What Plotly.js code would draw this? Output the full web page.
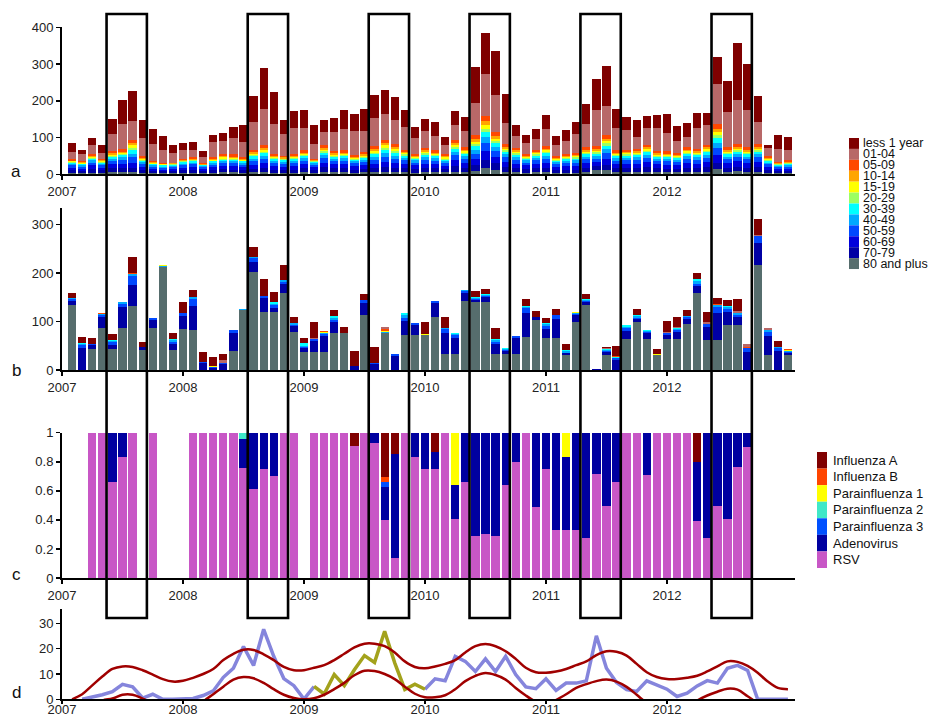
<!DOCTYPE html>
<html><head><meta charset="utf-8">
<script src="https://cdn.plot.ly/plotly-3.0.1.min.js"></script>
<style>html,body{margin:0;padding:0;background:#fff}#chart{width:930px;height:716px}</style>
</head><body><div id="chart"></div>
<script>
// ---------- labels ----------
const years = ['2007','2008','2009','2010','2011','2012'];
const ageGroups = ['less 1 year','01-04','05-09','10-14','15-19','20-29','30-39','40-49','50-59','60-69','70-79','80 and plus'];
const ageColors = ['#7f0000','#b86868','#ff4800','#ffa500','#ffff00','#9cff62','#00ffff','#00a8ff','#0048ff','#0000dc','#0000a4','#566d6d'];
const pathogens = ['Influenza A','Influenza B','Parainfluenza 1','Parainfluenza 2','Parainfluenza 3','Adenovirus','RSV'];
const pathogenColors = ['#800000','#ff4500','#ffff00','#40e8c8','#0050ff','#0000a0','#c857c6'];
const epidemicStartMonth = [4,18,30,40,51,64];

// ---------- panel a (monthly counts by age, Jan 2007 - Dec 2012) ----------
const aLt1 = [24,11,20,21,40,63,83,48,40,40,23,20, 21,16,19,22,31,47,69,111,89,39,45,50, 52,31,39,54,47,59,63,66,62,45,31,34, 36,23,38,39,98,111,121,79,31,23,29,39, 25,30,30,52,84,109,54,36,47,32,35,51, 42,38,41,35,74,84,153,125,71,9,38,35];
const a0104 = [20,18,23,15,48,70,50,49,46,33,26,22, 20,16,41,36,45,41,76,97,80,58,70,61, 40,37,52,57,66,57,78,69,66,62,43,45, 40,25,39,43,88,116,100,58,32,29,28,45, 29,34,53,65,100,80,60,53,32,45,64,49, 31,28,57,52,107,96,120,103,59,23,36,29];
const a0509 = [4,3,5,4,6,6,8,5,3,3,2,4, 4,3,5,5,6,5,7,9,6,5,5,6, 4,7,6,6,5,6,8,9,8,6,5,7, 6,5,8,7,10,14,11,8,7,5,6,7, 5,6,6,7,7,10,6,6,7,8,6,7, 6,7,7,8,14,7,8,7,9,5,3,4];
const a1014 = [2,2,3,3,4,4,6,3,2,2,2,2, 3,2,3,3,3,3,4,5,3,3,3,4, 2,5,4,4,3,4,5,6,5,4,3,4, 4,3,6,4,7,10,7,5,4,3,4,5, 3,3,3,4,5,6,4,4,4,5,4,4, 3,4,4,5,10,4,5,4,5,3,2,2];
const a1519 = [2,2,3,2,3,3,8,2,2,2,1,2, 2,1,2,3,2,2,3,4,3,2,3,3, 2,4,3,3,3,3,5,7,6,3,3,4, 3,3,5,4,7,10,6,4,4,3,3,4, 2,3,3,4,4,6,3,3,4,4,3,3, 3,4,3,4,8,4,4,4,4,2,2,2];
const a2029 = [2,2,3,2,3,3,6,3,2,1,2,2, 2,1,2,3,3,2,4,4,3,3,3,3, 2,4,3,3,2,3,4,6,5,3,3,4, 3,3,5,4,6,9,6,4,4,3,3,4, 3,3,3,4,4,6,3,3,3,4,3,3, 3,4,4,4,8,4,4,4,4,3,2,2];
const a3039 = [3,3,4,3,5,6,10,4,3,3,3,4, 4,2,4,4,5,4,6,7,4,4,5,5, 3,7,5,5,4,5,7,9,8,6,4,6, 5,4,8,6,9,14,10,7,6,4,6,6, 4,4,5,6,6,9,5,6,6,7,5,5, 5,6,6,7,12,6,7,6,7,4,3,3];
const a4049 = [4,4,6,4,6,7,10,5,4,3,3,4, 5,3,5,5,5,5,7,8,6,5,6,7, 4,8,6,7,5,6,8,10,9,7,6,7, 7,5,10,7,11,16,11,8,7,6,7,8, 5,6,6,7,7,11,7,7,7,8,6,6, 6,7,7,8,14,7,8,7,8,5,3,4];
const a5059 = [6,5,8,7,9,10,14,8,5,5,5,7, 7,5,7,8,8,7,10,12,8,8,8,10, 7,12,9,10,8,9,11,13,12,10,8,11, 10,8,14,11,15,22,16,12,11,8,10,12, 8,8,9,11,10,15,10,10,11,12,9,9, 9,11,11,12,20,11,12,11,12,7,5,6];
const a6069 = [7,6,10,7,11,12,14,8,6,5,6,7, 8,6,8,9,9,8,11,13,10,9,10,11, 8,13,11,11,9,10,12,14,12,11,10,12, 11,9,16,13,17,25,18,14,12,10,11,13, 8,10,10,12,11,17,11,11,12,14,11,11, 10,13,12,14,20,12,14,12,14,8,6,6];
const a7079 = [7,6,10,7,11,12,12,8,6,5,5,8, 8,5,7,9,8,7,10,12,9,8,9,11, 7,13,11,11,9,10,11,13,12,12,10,12, 11,9,15,12,16,22,17,13,12,10,12,13, 8,9,9,12,11,15,11,12,11,13,11,10, 9,12,11,13,18,12,13,12,13,8,5,6];
const a80plus = [4,3,4,4,5,5,6,4,3,3,3,3, 4,3,4,5,5,4,5,6,4,4,4,5, 4,6,5,5,4,5,5,7,6,5,4,5, 5,5,7,6,8,16,13,7,5,4,5,5, 4,4,4,6,11,11,5,5,5,6,5,5, 5,6,5,6,14,6,8,6,7,4,3,3];

// ---------- panel b ----------
const bLt1 = [11,13,11,0,12,0,32,10,0,0,13,22, 13,22,18,12,0,0,21,34,21,31,13,12, 33,0,12,13,31,13,34,0,0,0,0,26, 0,24,0,0,13,11,23,0,0,14,12,11, 13,13,0,11,0,1,21,0,13,0,10,23, 22,12,14,22,12,12,24,0,33,0,12,0];
const b0104 = [0,0,0,0,0,0,0,0,0,0,0,0, 0,0,0,5,0,0,0,0,0,0,0,0, 2,0,0,0,0,0,0,5,0,0,0,0, 0,0,0,0,0,0,0,0,0,0,0,0, 0,0,0,0,0,3,0,0,0,0,0,2, 2,0,0,3,0,0,5,5,2,3,0,0];
const b0509 = [0,0,0,2,0,0,3,0,0,0,0,0, 0,0,1,0,0,0,0,0,0,0,0,0, 0,2,0,0,0,0,0,3,0,0,0,0, 0,0,0,0,0,0,0,0,0,0,0,0, 0,0,0,0,0,0,2,0,0,0,0,0, 0,0,0,0,3,0,0,3,0,0,0,1];
const b1014 = new Array(72).fill(0);
const b1519 = [0,0,0,1,0,0,0,0,0,2,0,0, 0,0,1,0,0,0,1,0,0,0,0,0, 0,2,0,0,0,0,0,2,0,0,0,2, 0,0,0,0,0,0,0,0,0,0,0,0, 0,0,1,0,0,0,1,0,0,0,2,0, 0,0,0,0,0,0,0,0,0,0,0,2];
const b2029 = new Array(72).fill(0);
const b3039 = [0,2,0,0,3,0,1,0,0,0,2,0, 0,0,0,0,0,0,0,0,3,0,0,5, 0,0,3,0,0,0,0,0,0,4,0,0, 0,0,1,1,1,1,2,1,0,2,0,2, 0,2,1,1,0,1,1,5,2,1,0,0, 1,1,4,0,0,3,0,0,0,0,0,1];
const b4049 = [2,2,1,2,2,3,3,0,1,1,3,0, 4,0,1,0,0,2,2,0,4,5,4,3, 0,3,5,0,0,0,0,3,0,6,0,0, 0,2,3,2,3,2,4,3,0,3,0,4, 0,3,1,3,0,2,1,2,3,2,0,0, 2,2,5,0,5,3,3,0,0,5,2,2];
const b5059 = [4,7,2,4,5,8,18,1,3,0,4,6, 15,2,1,2,6,0,7,5,5,3,2,2, 3,4,5,0,1,5,2,0,5,6,5,0, 5,8,6,4,1,2,4,2,6,10,1,5, 8,1,3,2,0,2,4,5,2,3,0,3, 4,3,4,6,12,6,4,7,15,7,6,2];
const b6069 = new Array(72).fill(0);
const b7079 = [8,45,8,22,9,42,45,6,18,0,13,28, 50,14,5,13,36,0,20,28,8,20,12,7, 22,32,22,0,8,26,12,0,28,28,20,0, 28,42,32,15,4,10,20,5,32,48,6,18, 38,4,13,6,2,7,20,18,8,13,0,10, 16,11,16,27,55,27,17,38,45,41,40,5];
const b80plus = [134,0,43,87,43,87,131,41,86,213,41,84, 82,0,0,0,40,124,203,120,120,158,78,38, 38,38,76,76,0,113,0,76,0,73,72,72, 110,34,34,143,141,141,34,34,33,69,103,67, 67,31,100,134,0,31,0,63,98,63,31,63, 63,95,158,62,62,93,93,0,216,30,0,30];

// ---------- panel c (proportions among positive samples) ----------
const cFluA = [0,0,0,0,0,0,0,0,0,0,0,0, 0,0,0,0,0,0,0,0,0,0,0,0, 0,0,0,0,0.09,0,0,0.305,0.144,0,0,0, 0.131,0,0,0,0,0,0,0,0,0,0,0, 0,0,0,0,0,0,0,0,0,0,0,0, 0,0,0.205,0,0,0,0,0,0,0,0,0];
const cFluB = [0,0,0,0,0,0,0,0,0,0,0,0, 0,0,0,0,0,0,0,0,0,0,0,0, 0,0,0,0,0,0,0,0.035,0,0,0,0, 0,0,0,0,0,0,0,0,0,0,0,0, 0,0,0,0,0,0,0,0,0,0,0,0, 0,0,0,0,0,0,0,0,0,0,0,0];
const cPara1 = [0,0,0,0,0,0,0,0,0,0,0,0, 0,0,0,0,0,0,0,0,0,0,0,0, 0,0,0,0,0,0,0,0,0,0,0,0, 0,0,0.357,0,0,0,0,0,0,0,0,0, 0,0.17,0,0,0,0,0,0,0,0,0,0, 0,0,0,0,0,0,0,0,0,0,0,0];
const cPara2 = [0,0,0,0,0,0,0,0,0,0,0,0, 0,0,0,0,0,0.045,0,0,0,0,0,0, 0,0,0,0,0,0,0,0,0,0,0,0, 0,0,0,0,0,0,0,0,0,0,0,0, 0,0,0,0,0,0,0,0,0,0,0,0, 0,0,0,0,0,0,0,0,0,0,0,0];
const cPara3 = [0,0,0,0,0,0,0,0,0,0,0,0, 0,0,0,0,0,0,0,0,0,0,0,0, 0,0,0,0,0,0,0,0.035,0,0,0,0, 0,0,0,0,0,0,0,0,0,0,0,0, 0,0,0,0,0,0,0,0,0,0,0,0, 0,0,0,0,0,0,0,0,0,0,0,0];
const cAdeno = [null,null,0,0,0.34,0.17,0,null,0,null,null,null, 0,0,0,0,0,0.195,0.39,0.25,0.30,0,0,null, 0,0,0,0,0,0,0.074,0.225,0.72,0,0.17,0.253, 0.122,0,0.24,0.339,0.712,0.696,0.712,0.357,0.205,0,0.51,0.253, 0.673,0.503,0.673,0.724,0.281,0.507,0.339,0,0,0.288,0,0, 0,0,0.403,0.724,0.507,0.592,0.235,0.097,null,null,null,null];
const cRSV = [null,null,1,1,0.66,0.83,1,null,1,null,null,null, 1,1,1,1,1,0.76,0.61,0.75,0.70,1,1,null, 1,1,1,1,0.91,1,0.926,0.40,0.136,1,0.83,0.747, 0.747,1,0.403,0.661,0.288,0.304,0.288,0.643,0.795,1,0.49,0.747, 0.327,0.327,0.327,0.276,0.719,0.493,0.661,1,1,0.712,1,1, 1,1,0.392,0.276,0.493,0.408,0.765,0.903,null,null,null,null];

// ---------- panel d ----------
const dObserved = [null,0,0.8,1.8,3,5.9,4.9,0.5,2,0,0,0, 0.3,1.5,3.3,8.7,12.3,20.9,13.4,27.7,17,8.2,5.4,0.1, 5,null,null,null,null,null,null,null,null,null,null,4.0, 8.1,7.3,17,15,11,16,11,17,9.8,4.9,4.2,8.1, 3.5,6.4,6.4,7.3,25.1,12.3,6.6,3.8,3.1,7.3,5.8,4.0, 1.1,2.4,5.3,7.4,6.4,12.3,13.4,11.4,0,0,0,0];
const dPandemic = [null,null,null,null,null,null,null,null,null,null,null,null, null,null,null,null,null,null,null,null,null,null,null,null, 5.1,2.1,9.8,5.4,11.7,17.3,14.6,26.9,14.4,3.9,6.0,4.0, null,null,null,null,null,null,null,null,null,null,null,null, null,null,null,null,null,null,null,null,null,null,null,null, null,null,null,null,null,null,null,null,null,null,null,null];
const dUpper = [0,2,5.5,9,12,13,12.8,11.5,9.8,8,7,7.3, 8.5,10,12,15.5,18,19.6,19.5,17.8,15.5,12.8,11.5,11.5, 12.5,13.5,15.5,18,20.5,22,22,21,18.5,15,12.8,12.3, 13,14,15.5,18.5,21,21.9,21,19,16,12.5,10.7,10.5, 11,12,13.5,15,17.5,19,18.8,17.3,14,10.7,8.8,8, 8,8.5,9.3,11,13,15,14.8,13.2,10.5,7,4.5,4.0];
const dLower = [-8,-6,-3,-0.5,0.3,1.8,1.8,0.3,-1.5,-4,-6,-6.5, -6,-1,2,5,7.8,8.8,8.3,6.5,4,1.8,0.5,0, 0.4,1.8,4,6.5,9.5,11.3,11.2,10,8,5,2.2,0.8, 0.8,1.6,4,7.2,9.3,10.4,9.6,7.8,4.5,1.5,-1,-2.5, -0.3,2,4.5,6,7.2,7.8,7,4.9,1.8,-1.5,-3.5,-4.5, -4.5,-3,-0.5,1.5,3,4.2,3.8,1.2,-1.5,-4,-6.5,-8];

// ---------- build ----------
const W = 930, H = 716;
const months = Array.from({length: 72}, (_, i) => i + 1);
const aSeries = [aLt1,a0104,a0509,a1014,a1519,a2029,a3039,a4049,a5059,a6069,a7079,a80plus];
const bSeries = [bLt1,b0104,b0509,b1014,b1519,b2029,b3039,b4049,b5059,b6069,b7079,b80plus];
const cSeries = [cFluA,cFluB,cPara1,cPara2,cPara3,cAdeno,cRSV];

const traces = [];
for (let g = ageGroups.length - 1; g >= 0; g--) {
  traces.push({type:'bar', x: months, y: aSeries[g], name: ageGroups[g], marker:{color: ageColors[g], line:{width:0}}, xaxis:'x', yaxis:'y', showlegend:false, hoverinfo:'skip'});
}
for (let g = ageGroups.length - 1; g >= 0; g--) {
  traces.push({type:'bar', x: months, y: bSeries[g], name: ageGroups[g], marker:{color: ageColors[g], line:{width:0}}, xaxis:'x2', yaxis:'y2', showlegend:false, hoverinfo:'skip'});
}
for (let p = pathogens.length - 1; p >= 0; p--) {
  traces.push({type:'bar', x: months, y: cSeries[p], name: pathogens[p], marker:{color: pathogenColors[p], line:{width:0}}, xaxis:'x3', yaxis:'y3', showlegend:false, hoverinfo:'skip'});
}
traces.push({type:'scatter', mode:'lines', x: months, y: dObserved, line:{color:'#8585dc', width:3.5}, xaxis:'x4', yaxis:'y4', showlegend:false, connectgaps:false, hoverinfo:'skip'});
traces.push({type:'scatter', mode:'lines', x: months, y: dPandemic, line:{color:'#a3a21c', width:3.5}, xaxis:'x4', yaxis:'y4', showlegend:false, hoverinfo:'skip'});
traces.push({type:'scatter', mode:'lines', x: months, y: dUpper, line:{color:'#a00000', width:2.5, shape:'spline'}, xaxis:'x4', yaxis:'y4', showlegend:false, hoverinfo:'skip'});
traces.push({type:'scatter', mode:'lines', x: months, y: dLower, line:{color:'#a00000', width:2.5, shape:'spline'}, xaxis:'x4', yaxis:'y4', showlegend:false, hoverinfo:'skip'});

const font = 'Liberation Sans, Arial, sans-serif';
const px = v => v / W;
const py = v => 1 - v / H;
const xDom = [px(62), px(795)];
function xAxis(anchor, standoff, tlen) {
  return {domain: xDom, range: [0, 72.7], anchor: anchor, tickvals: years.map((_, k) => k * 12), ticktext: years,
    showline: true, linewidth: 2, linecolor: '#000', ticks: 'outside', ticklen: tlen, tickwidth: 1.5, tickcolor: '#000',
    ticklabelstandoff: standoff,
    showgrid: false, zeroline: false, tickfont: {size: 13, color: '#222', family: font}, fixedrange: true};
}
function yAxis(anchor, top, bottom, range, tickvals, ticktext) {
  return {domain: [py(bottom), py(top)], range: range, anchor: anchor, tickvals: tickvals, ticktext: ticktext,
    showline: true, linewidth: 2, linecolor: '#000', ticks: 'outside', ticklen: 4, tickwidth: 1.5, tickcolor: '#000',
    showgrid: false, zeroline: false, tickfont: {size: 13, color: '#222', family: font}, fixedrange: true};
}

const shapes = [];
const annotations = [];
epidemicStartMonth.forEach(s => {
  shapes.push({type:'rect', xref:'x', yref:'paper', x0: s + 0.42, x1: s + 4.42, y0: py(618), y1: py(14), line:{color:'#000', width:2.6}, fillcolor:'rgba(0,0,0,0)', layer:'above'});
});
// legend a/b
const la = {x0: 849, x1: 859, top: 138, h: 10.92};
ageGroups.forEach((g, k) => {
  shapes.push({type:'rect', xref:'paper', yref:'paper', x0: px(la.x0), x1: px(la.x1), y0: py(la.top + (k + 1) * la.h), y1: py(la.top + k * la.h), line:{width:0}, fillcolor: ageColors[k]});
  annotations.push({xref:'paper', yref:'paper', x: px(861), y: py(la.top + (k + 0.5) * la.h), text: g, showarrow:false, xanchor:'left', yanchor:'middle', font:{size:12.5, color:'#111', family: font}});
});
// legend c
const lc = {x0: 817, x1: 827, top: 452, h: 16.57};
pathogens.forEach((p, k) => {
  shapes.push({type:'rect', xref:'paper', yref:'paper', x0: px(lc.x0), x1: px(lc.x1), y0: py(lc.top + (k + 1) * lc.h), y1: py(lc.top + k * lc.h), line:{width:0}, fillcolor: pathogenColors[k]});
  annotations.push({xref:'paper', yref:'paper', x: px(831), y: py(lc.top + (k + 0.5) * lc.h), text: p, showarrow:false, xanchor:'left', yanchor:'middle', font:{size:13, color:'#111', family: font}});
});
[['a',171],['b',370],['c',574],['d',692]].forEach(([t, y]) => {
  annotations.push({xref:'paper', yref:'paper', x: px(16), y: py(y), text: t, showarrow:false, xanchor:'center', yanchor:'middle', font:{size:17, color:'#111', family: font}});
});

const layout = {
  width: W, height: H, margin: {l:0, r:0, t:0, b:0}, paper_bgcolor:'#fff', plot_bgcolor:'#fff',
  barmode:'stack', bargap: 0.18, showlegend:false, font:{family: font},
  xaxis: xAxis('y', 0, 4), xaxis2: xAxis('y2', 0, 4), xaxis3: xAxis('y3', 0, 4), xaxis4: xAxis('y4', -6, 3),
  yaxis: yAxis('x', 27.3, 174.3, [0, 400], [0,100,200,300,400], ['0','100','200','300','400']),
  yaxis2: yAxis('x2', 208, 370, [0, 334], [0,100,200,300], ['0','100','200','300']),
  yaxis3: yAxis('x3', 432.7, 578, [0, 1], [0,0.2,0.4,0.6,0.8,1], ['0','0.2','0.4','0.6','0.8','1']),
  yaxis4: yAxis('x4', 609.3, 699.3, [0, 35.6], [0,10,20,30], ['0','10','20','30']),
  shapes: shapes, annotations: annotations
};
Plotly.newPlot('chart', traces, layout, {displayModeBar:false, staticPlot:true});
</script>
</body></html>
